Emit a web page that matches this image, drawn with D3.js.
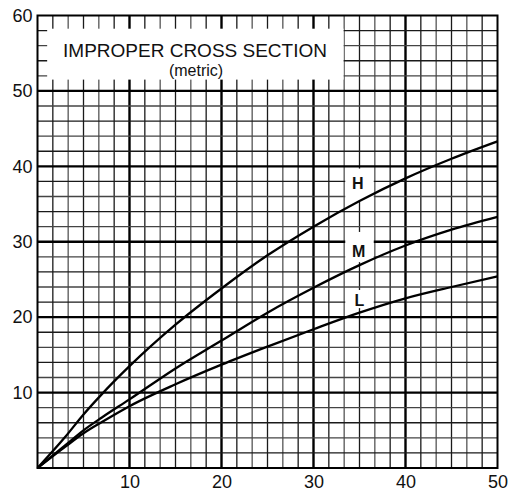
<!DOCTYPE html>
<html>
<head>
<meta charset="utf-8">
<script src="https://cdn.jsdelivr.net/npm/d3@7"></script>
<style>
  body { margin: 0; background: #fff; }
  svg text { font-family: "Liberation Sans", Arial, Helvetica, sans-serif; fill: #111; }
</style>
</head>
<body>
<div id="chart"></div>
<script>
// curve data
var xValues = [0, 3, 5, 7, 10, 15, 20, 25, 30, 35, 40, 45, 50];
var seriesH = [0, 4.1, 7.1, 9.8, 13.5, 19.0, 23.8, 28.2, 32.0, 35.4, 38.4, 41.0, 43.3];
var seriesM = [0, 3.0, 5.0, 6.7, 9.1, 13.2, 16.9, 20.6, 23.9, 26.9, 29.5, 31.6, 33.3];
var seriesL = [0, 2.8, 4.6, 6.1, 8.2, 11.1, 13.7, 16.1, 18.4, 20.6, 22.5, 24.0, 25.4];
var seriesNames = ["H", "M", "L"];
var xTicks = [10, 20, 30, 40, 50];
var yTicks = [10, 20, 30, 40, 50, 60];
var titleLines = ["IMPROPER CROSS SECTION", "(metric)"];

var width = 509, height = 491;
var margin = {top: 15.5, right: 11.5, bottom: 23, left: 37.5};

var svg = d3.select("#chart").append("svg")
    .attr("width", width)
    .attr("height", height);

var x = d3.scaleLinear().domain([0, 50]).range([margin.left, width - margin.right]);
var y = d3.scaleLinear().domain([0, 60]).range([height - margin.bottom, margin.top]);

// graph paper: 6 squares per 10 on x, 5 squares per 10 on y
var vLines = d3.range(1, 30).map(function(i) { return {v: i * 10 / 6, major: i % 6 === 0}; });
var hLines = d3.range(1, 30).map(function(i) { return {v: i * 2, major: i % 5 === 0}; });

var grid = svg.append("g");
grid.selectAll(".vl").data(vLines).enter().append("line")
    .attr("x1", function(d) { return x(d.v); })
    .attr("x2", function(d) { return x(d.v); })
    .attr("y1", y(0)).attr("y2", y(60))
    .attr("stroke", function(d, i) { return d.major ? "#000" : (i % 2 ? "#555" : "#1a1a1a"); })
    .attr("stroke-width", function(d) { return d.major ? 2.4 : 1.3; });
grid.selectAll(".hl").data(hLines).enter().append("line")
    .attr("y1", function(d) { return y(d.v); })
    .attr("y2", function(d) { return y(d.v); })
    .attr("x1", x(0)).attr("x2", x(50))
    .attr("stroke", function(d, i) { return d.major ? "#000" : (i % 2 ? "#444" : "#1a1a1a"); })
    .attr("stroke-width", function(d) { return d.major ? 2.4 : 1.3; });

// white area behind the title
svg.append("rect")
    .attr("x", x(1.05)).attr("y", y(58.25))
    .attr("width", x(33.27) - x(1.05))
    .attr("height", y(51.5) - y(58.25))
    .attr("fill", "#fff");

// white patches behind curve labels
var labelBoxes = [
    {x0: 33.45, x1: 36.55, y0: 35.3, y1: 39.7},
    {x0: 33.45, x1: 36.55, y0: 27.3, y1: 31.3},
    {x0: 33.45, x1: 36.55, y0: 21.2, y1: 23.6}
];
svg.selectAll(".lb").data(labelBoxes).enter().append("rect")
    .attr("x", function(d) { return x(d.x0); })
    .attr("y", function(d) { return y(d.y1); })
    .attr("width", function(d) { return x(d.x1) - x(d.x0); })
    .attr("height", function(d) { return y(d.y0) - y(d.y1); })
    .attr("fill", "#fff");

// frame
svg.append("rect")
    .attr("x", x(0)).attr("y", y(60))
    .attr("width", x(50) - x(0)).attr("height", y(0) - y(60))
    .attr("fill", "none").attr("stroke", "#000").attr("stroke-width", 2);

// curves
var series = [seriesH, seriesM, seriesL];
var line = d3.line()
    .x(function(d) { return x(d[0]); })
    .y(function(d) { return y(d[1]); })
    .curve(d3.curveMonotoneX);
svg.selectAll(".curve").data(series).enter().append("path")
    .attr("d", function(s) { return line(xValues.map(function(xv, i) { return [xv, s[i]]; })); })
    .attr("fill", "none")
    .attr("stroke", "#000")
    .attr("stroke-width", 2.3);

// curve labels
var labelPos = [[34.8, 37.7], [34.9, 28.7], [35.0, 22.2]];
svg.selectAll(".cl").data(seriesNames).enter().append("text")
    .attr("x", function(d, i) { return x(labelPos[i][0]); })
    .attr("y", function(d, i) { return y(labelPos[i][1]); })
    .attr("text-anchor", "middle")
    .attr("dominant-baseline", "central")
    .style("font-size", "16px")
    .style("font-weight", "bold")
    .text(function(d) { return d; });

// title
svg.append("text")
    .attr("x", 195).attr("y", 57)
    .attr("text-anchor", "middle")
    .style("font-size", "19px")
    .text(titleLines[0]);
svg.append("text")
    .attr("x", 196).attr("y", 76)
    .attr("text-anchor", "middle")
    .style("font-size", "16px")
    .text(titleLines[1]);

// axes labels (no tick marks)
var yAxis = d3.axisLeft(y).tickValues(yTicks).tickSize(0).tickPadding(5);
svg.append("g")
    .attr("transform", "translate(" + x(0) + ",0)")
    .call(yAxis)
    .call(function(g) { g.select(".domain").remove(); })
    .selectAll("text")
    .style("font-size", "18px")
    .style("font-family", "'Liberation Sans', Arial, sans-serif")
    .attr("fill", "#111");

var xAxis = d3.axisBottom(x).tickValues(xTicks).tickSize(0).tickPadding(7);
svg.append("g")
    .attr("transform", "translate(0," + y(0) + ")")
    .call(xAxis)
    .call(function(g) { g.select(".domain").remove(); })
    .selectAll("text")
    .style("font-size", "18px")
    .style("font-family", "'Liberation Sans', Arial, sans-serif")
    .attr("fill", "#111");
</script>
</body>
</html>
